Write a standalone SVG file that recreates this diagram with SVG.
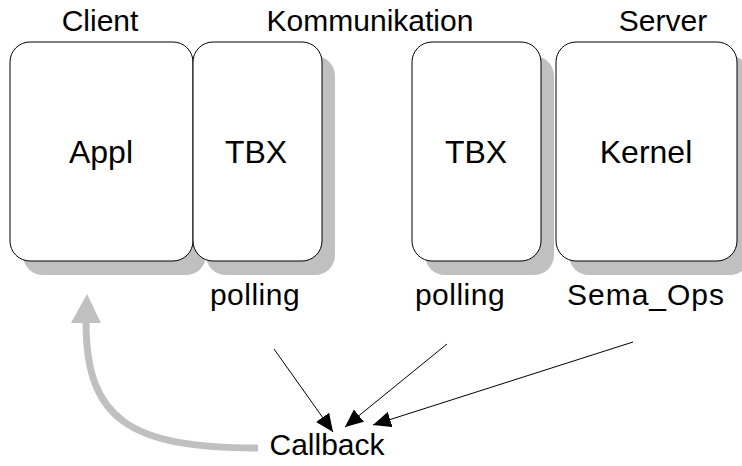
<svg xmlns="http://www.w3.org/2000/svg" width="742" height="466" viewBox="0 0 742 466">
<style>
text{font-family:"Liberation Sans",Arial,sans-serif;font-size:30px;fill:#000}
.lbl{font-size:32px}
.box{fill:#fff;stroke:#000;stroke-width:1}
.shadow{fill:#c0c0c0;stroke:none}
.conn{stroke:#000;stroke-width:1;fill:none}
</style>
<defs>
<marker id="ah" markerUnits="userSpaceOnUse" markerWidth="18" markerHeight="16" refX="18" refY="8" orient="auto">
<path d="M0,0 L18,8 L0,16 Z" fill="#000"/>
</marker>
</defs>
<g id="title-client"><text x="100" y="31" text-anchor="middle">Client</text></g>
<g id="title-komm"><text x="370" y="31" text-anchor="middle">Kommunikation</text></g>
<g id="title-server"><text x="663" y="31" text-anchor="middle">Server</text></g>
<g id="appl">
<rect class="shadow" x="23" y="56" width="183" height="219" rx="20"/>
</g>
<g id="tbx1">
<rect class="shadow" x="206" y="56" width="129" height="219" rx="20"/>
</g>
<g id="tbx2">
<rect class="shadow" x="425" y="56" width="129" height="219" rx="20"/>
</g>
<g id="kernel">
<rect class="shadow" x="569" y="56" width="181" height="219" rx="20"/>
</g>
<g id="appl-box">
<rect class="box" x="10" y="42" width="183" height="219" rx="20"/>
<text class="lbl" x="101" y="163" text-anchor="middle">Appl</text>
</g>
<g id="tbx1-box">
<rect class="box" x="193" y="42" width="129" height="219" rx="20"/>
<text class="lbl" x="256" y="163" text-anchor="middle">TBX</text>
</g>
<g id="tbx2-box">
<rect class="box" x="412" y="42" width="129" height="219" rx="20"/>
<text class="lbl" x="476" y="163" text-anchor="middle">TBX</text>
</g>
<g id="kernel-box">
<rect class="box" x="556" y="42" width="181" height="219" rx="20"/>
<text class="lbl" x="646" y="163" text-anchor="middle">Kernel</text>
</g>
<g id="polling1"><text x="255" y="305" text-anchor="middle" letter-spacing="0.5">polling</text></g>
<g id="polling2"><text x="460" y="305" text-anchor="middle" letter-spacing="0.5">polling</text></g>
<g id="semaops"><text x="646" y="305" text-anchor="middle" letter-spacing="1">Sema_Ops</text></g>
<g id="callback"><text x="327" y="455" text-anchor="middle">Callback</text></g>
<g id="connectors">
<line class="conn" x1="274" y1="349" x2="333" y2="432" marker-end="url(#ah)"/>
<line class="conn" x1="447" y1="344" x2="345" y2="427" marker-end="url(#ah)"/>
<line class="conn" x1="633" y1="342" x2="373" y2="425" marker-end="url(#ah)"/>
<path d="M258,448 C130,448 86,420 86,322" stroke="#c0c0c0" stroke-width="7" fill="none"/>
<path d="M71,323 L87,294 L101,323 Z" fill="#c0c0c0"/>
</g>
</svg>
